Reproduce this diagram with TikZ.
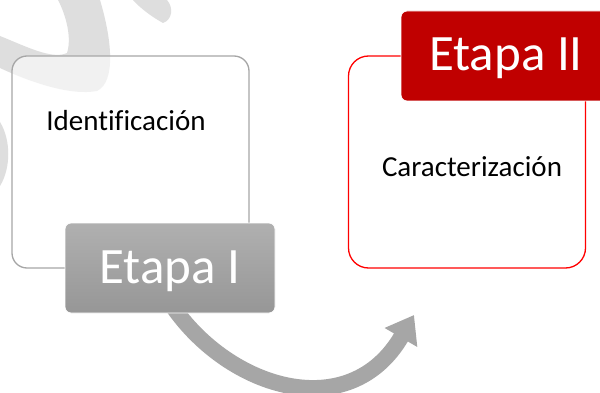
\documentclass[tikz,border=0pt]{standalone}
\usepackage{fontspec}
\setmainfont{Carlito}[Ligatures=NoCommon]
\usepackage{xcolor}
\usetikzlibrary{arrows.meta, positioning, backgrounds}
\definecolor{EtapaRed}{HTML}{C00000}
\definecolor{FrameGray}{HTML}{A6A6A6}
\definecolor{ArrowGray}{HTML}{A6A6A6}
\definecolor{MarkGray}{HTML}{DEDEDE}

\begin{document}
\begin{tikzpicture}[x=1pt, y=-1pt, on grid,
    frame/.style={rectangle, rounded corners=15pt, draw=FrameGray, line width=1.3pt, fill=white, fill opacity=0.6, minimum width=237pt, minimum height=212pt},
    stage/.style={rectangle, rounded corners=6pt, draw=white, line width=0.8pt, text=white, minimum width=210pt, minimum height=90pt, text height=30pt, text depth=0pt, font=\fontsize{51}{60}\selectfont},
    boxtext/.style={anchor=base, font=\fontsize{29}{34}\selectfont},
    bendarrow/.style={draw=ArrowGray, line width=16pt, -{Triangle[length=26pt, width=36pt]}},
    watermark/.style={fill=MarkGray}]

        \useasboundingbox (0,0) rectangle (600,393);
        \clip (0,0) rectangle (600,393);

        \node[frame] (ident) at (130.5,162) {};
        \node[frame, draw=red, rounded corners=20pt, right=336.5pt of ident] (caract) {};

        \node[boxtext] (identtxt) at ([shift={(-4.5,-31)}]ident.center) {Identificación};
        \node[boxtext] (caracttxt) at ([shift={(5,14)}]caract.center) {Caracterización};

        \node[stage, top color=gray!62, bottom color=gray!82, below right=106pt and 39.5pt of ident] (etapaI) {Etapa I};
        \node[stage, fill=EtapaRed, above right=106pt and 39pt of caract] (etapaII) {Etapa II};

        \coordinate (tip) at (414,315);

        \begin{scope}[on background layer]
            \fill[white] (0,0) rectangle (600,393);
            % faint marks behind the first frame
            \fill[watermark] (58,0) -- (100,0) .. controls (112,40) and (116,82) .. (97,91) .. controls (70,96) and (30,82) .. (0,68) -- (0,36) .. controls (25,46) and (52,60) .. (67,53) .. controls (72,38) and (66,15) .. (58,0) -- cycle;
            \fill[watermark] (0,122) .. controls (11,140) and (11,168) .. (0,186) -- cycle;
            \fill[watermark] (133,0) -- (167,0) .. controls (174,8) and (172,20) .. (163,23) .. controls (152,17) and (140,8) .. (133,0) -- cycle;

            \draw[bendarrow] ([shift={(2,-8)}]etapaI.south) .. controls (230,390) and (350,425) .. (tip);
        \end{scope}

    \end{tikzpicture}
\end{document}
